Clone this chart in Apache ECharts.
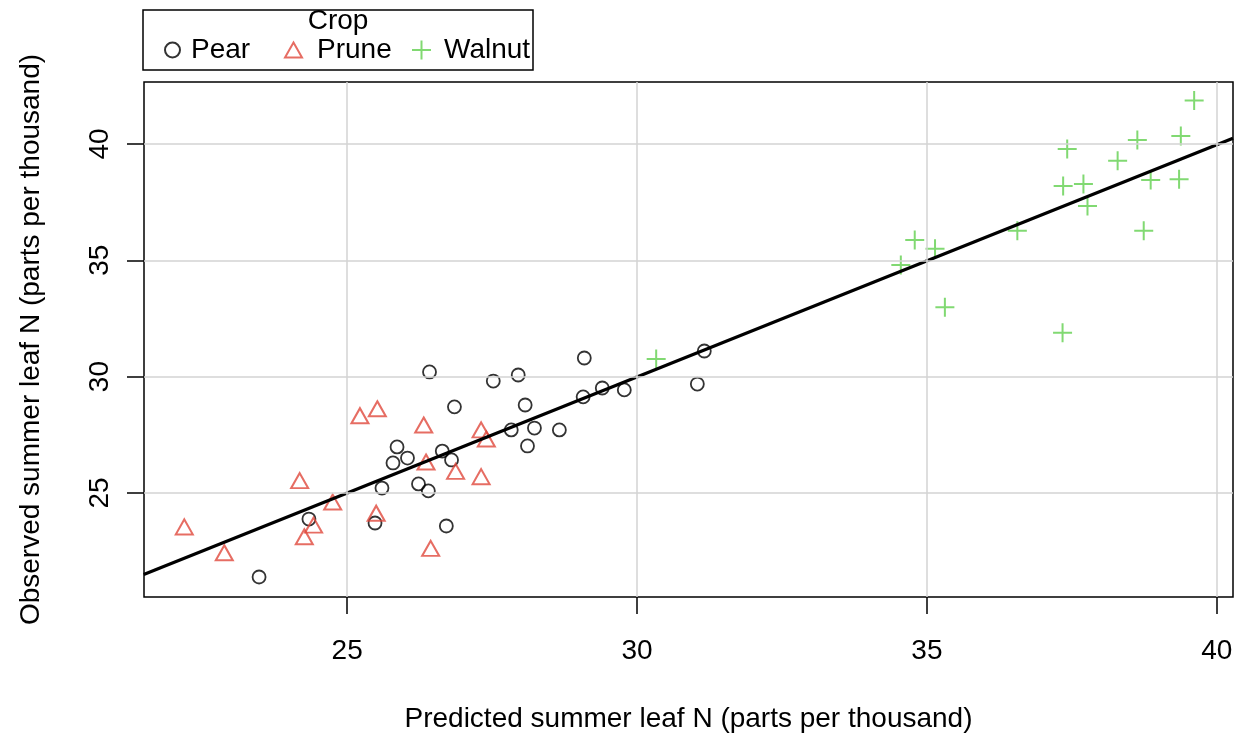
<!DOCTYPE html>
<html>
<head>
<meta charset="utf-8">
<script src="https://cdn.jsdelivr.net/npm/echarts@6/dist/echarts.min.js"></script>
<style>html,body{margin:0;padding:0;background:#fff}#c{width:1243px;height:733px}</style>
</head>
<body>
<div id="c"></div>
<script>
// ---- data ----
const tickValues = [25, 30, 35, 40];
const pearX = [23.48, 24.34, 25.48, 25.60, 25.79, 25.86, 26.04, 26.23, 26.40, 26.42, 26.64, 26.71, 26.80, 26.85, 27.52, 27.83, 27.95, 28.07, 28.11, 28.23, 28.66, 29.07, 29.09, 29.40, 29.78, 31.04, 31.16];
const pearY = [21.39, 23.88, 23.71, 25.21, 26.29, 26.98, 26.50, 25.39, 25.09, 30.20, 26.80, 23.58, 26.42, 28.70, 29.81, 27.71, 30.07, 28.78, 27.02, 27.79, 27.71, 29.13, 30.80, 29.51, 29.43, 29.68, 31.10];
const pruneX = [22.19, 22.88, 24.18, 24.26, 24.42, 24.75, 25.22, 25.52, 25.50, 26.32, 26.36, 26.44, 26.87, 27.31, 27.40, 27.31];
const pruneY = [23.54, 22.43, 25.53, 23.12, 23.62, 24.61, 28.32, 28.62, 24.13, 27.92, 26.33, 22.62, 25.93, 27.71, 27.32, 25.70];
const walnutX = [39.61, 39.38, 38.63, 37.42, 38.29, 37.35, 37.70, 37.77, 38.86, 39.35, 38.74, 36.56, 34.79, 35.14, 34.55, 35.31, 37.34, 30.33];
const walnutY = [41.86, 40.34, 40.17, 39.78, 39.28, 38.19, 38.28, 37.33, 38.45, 38.48, 36.27, 36.27, 35.87, 35.49, 34.80, 32.98, 31.89, 30.76];
const fitX = [21.49, 40.28];
const fitY = [21.50, 40.24];

const zip = (xs, ys) => xs.map((x, i) => [x, ys[i]]);
const FONT = "'Liberation Sans', Arial, sans-serif";
const RED = '#E0493C', GREEN = '#61D04F';
const PLUS = 'path://M0,10L20,10M10,0L10,20';
const legendText = (pad) => ({fontSize: 28, color: '#000', fontFamily: FONT, lineHeight: 30, padding: [0, 0, 0, pad]});

const chart = echarts.init(document.getElementById('c'), null, {renderer: 'canvas'});
chart.setOption({
  animation: false,
  backgroundColor: '#fff',
  textStyle: {fontFamily: FONT},
  grid: {left: 144, right: 10, top: 82, bottom: 136, show: true, borderColor: '#000', borderWidth: 1.5,
         containLabel: false, outerBoundsMode: 'none'},
  xAxis: {
    type: 'value', min: 21.495, max: 40.28,
    name: 'Predicted summer leaf N (parts per thousand)', nameLocation: 'middle', nameGap: 108,
    nameTextStyle: {fontSize: 28, color: '#000', fontFamily: FONT},
    axisLine: {show: false},
    axisTick: {show: true, customValues: tickValues, length: 17, lineStyle: {color: '#000', width: 1.5}},
    axisLabel: {customValues: tickValues, fontSize: 28, color: '#000', margin: 40, fontFamily: FONT},
    splitLine: {show: false}
  },
  yAxis: {
    type: 'value', min: 20.53, max: 42.66,
    name: 'Observed summer leaf N (parts per thousand)', nameLocation: 'middle', nameGap: 99, nameRotate: 90,
    nameTextStyle: {fontSize: 28, color: '#000', fontFamily: FONT},
    axisLine: {show: false},
    axisTick: {show: true, customValues: tickValues, length: 17, lineStyle: {color: '#000', width: 1.5}},
    axisLabel: {customValues: tickValues, fontSize: 28, color: '#000', margin: 30, rotate: 90, fontFamily: FONT},
    splitLine: {show: false}
  },
  graphic: [
    {type: 'rect', shape: {x: 143, y: 10, width: 390, height: 60}, style: {fill: 'none', stroke: '#000', lineWidth: 1.5}, z: 100},
    {type: 'text', x: 338, y: 21, style: {text: 'Crop', fontSize: 28, fontFamily: FONT, fill: '#000', textAlign: 'center', textVerticalAlign: 'middle'}, z: 100}
  ],
  legend: [
    {data: ['Pear'], left: 164, top: 35, padding: 0, itemWidth: 15, itemHeight: 15, textStyle: legendText(6)},
    {data: ['Prune'], left: 284, top: 35, padding: 0, itemWidth: 17, itemHeight: 15, textStyle: legendText(10)},
    {data: ['Walnut'], left: 411, top: 35, padding: 0, itemWidth: 19, itemHeight: 19, textStyle: legendText(8)}
  ],
  series: [
    {
      type: 'line', name: 'grid', data: [], silent: true, z: 0,
      markLine: {
        silent: true, symbol: 'none', label: {show: false},
        lineStyle: {color: '#D3D3D3', width: 1.5, type: 'solid'},
        data: tickValues.map(v => ({xAxis: v})).concat(tickValues.map(v => ({yAxis: v})))
      }
    },
    {
      type: 'scatter', name: 'Pear', data: zip(pearX, pearY), symbol: 'circle', symbolSize: 13, z: 2,
      itemStyle: {color: 'rgba(0,0,0,0)', borderColor: '#000', borderWidth: 1.8}
    },
    {
      type: 'scatter', name: 'Prune', data: zip(pruneX, pruneY), symbol: 'triangle', symbolSize: [17, 15], z: 2,
      itemStyle: {color: 'rgba(0,0,0,0)', borderColor: RED, borderWidth: 2}
    },
    {
      type: 'scatter', name: 'Walnut', data: zip(walnutX, walnutY), symbol: PLUS, symbolSize: 19, z: 2,
      itemStyle: {color: 'rgba(0,0,0,0)', borderColor: GREEN, borderWidth: 2}
    },
    {
      type: 'line', name: 'fit', data: zip(fitX, fitY), symbol: 'none', z: 3, silent: true,
      lineStyle: {color: '#000', width: 3.2}
    }
  ]
});
</script>
</body>
</html>
